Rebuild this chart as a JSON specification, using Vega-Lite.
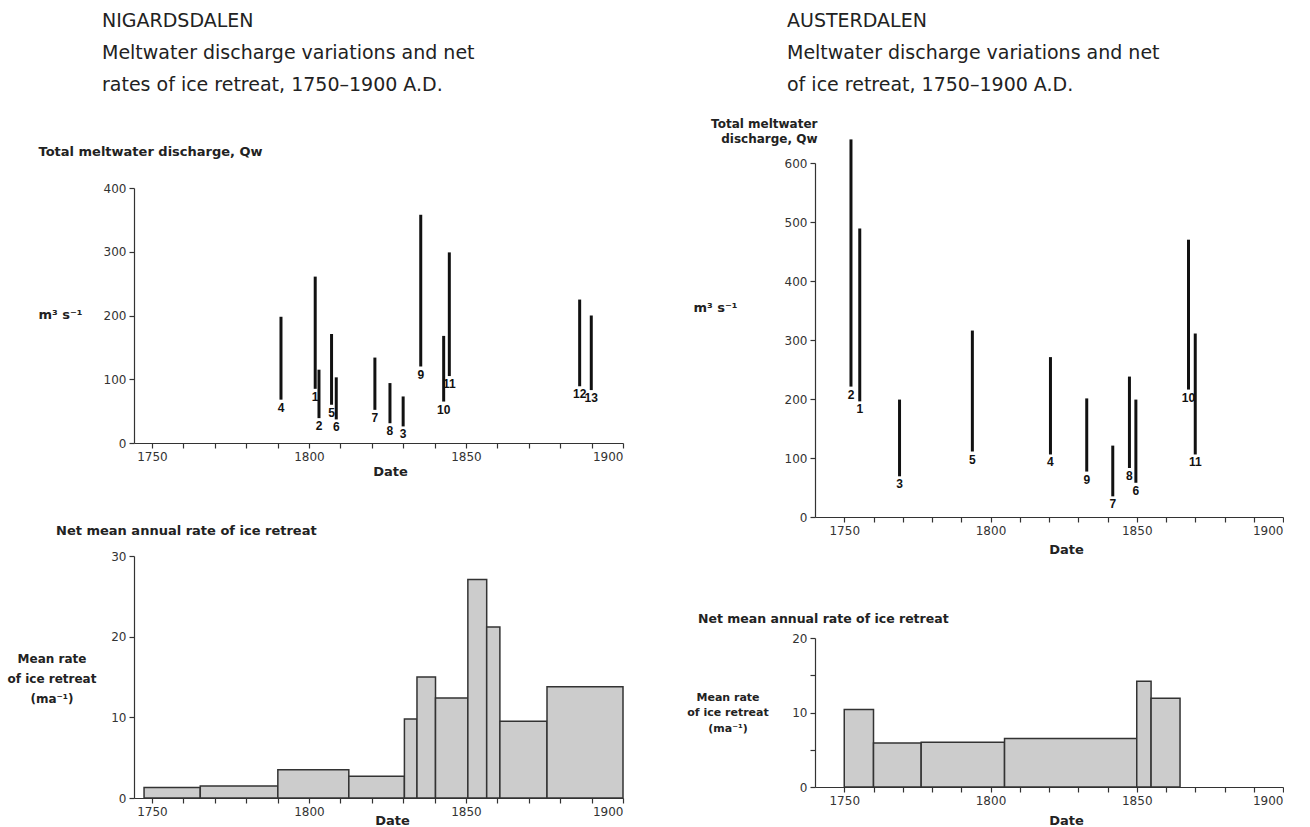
{
  "$schema": "https://vega.github.io/schema/vega-lite/v6.json",
  "background": "white",
  "padding": {"left": 7, "top": 12, "right": 0, "bottom": 0},
  "config": {
    "view": {"stroke": null},
    "axis": {"grid": false, "domainColor": "#333", "tickColor": "#333", "labelColor": "#333", "labelFont": "DejaVu Sans", "labelFontSize": 12, "titleFont": "DejaVu Sans", "titleFontWeight": "bold", "titleColor": "#222", "tickSize": 5, "domainWidth": 1.2, "tickWidth": 1.2, "labelPadding": 3, "labelOverlap": false, "labelBound": false},
    "title": {"font": "DejaVu Sans", "color": "#222"}
  },
  "datasets": {
    "nig_q": [
      {"id": "1", "year": 1802.0, "hi": 261, "lo": 85},
      {"id": "2", "year": 1803.2, "hi": 115, "lo": 39},
      {"id": "3", "year": 1830.0, "hi": 73, "lo": 26},
      {"id": "4", "year": 1791.1, "hi": 198, "lo": 68},
      {"id": "5", "year": 1807.2, "hi": 171, "lo": 60},
      {"id": "6", "year": 1808.7, "hi": 103, "lo": 37},
      {"id": "7", "year": 1821.0, "hi": 134, "lo": 52},
      {"id": "8", "year": 1825.8, "hi": 94, "lo": 31},
      {"id": "9", "year": 1835.6, "hi": 358, "lo": 120},
      {"id": "10", "year": 1842.9, "hi": 168, "lo": 65},
      {"id": "11", "year": 1844.7, "hi": 299, "lo": 105},
      {"id": "12", "year": 1886.2, "hi": 225, "lo": 89},
      {"id": "13", "year": 1889.9, "hi": 200, "lo": 83}
    ],
    "aus_q": [
      {"id": "1", "year": 1755.3, "hi": 489, "lo": 196},
      {"id": "2", "year": 1752.3, "hi": 640, "lo": 221},
      {"id": "3", "year": 1768.9, "hi": 199, "lo": 69},
      {"id": "4", "year": 1820.5, "hi": 271, "lo": 106},
      {"id": "5", "year": 1793.8, "hi": 316, "lo": 111},
      {"id": "6", "year": 1849.7, "hi": 199, "lo": 58},
      {"id": "7", "year": 1841.8, "hi": 121, "lo": 35},
      {"id": "8", "year": 1847.5, "hi": 238, "lo": 83},
      {"id": "9", "year": 1832.9, "hi": 201, "lo": 77},
      {"id": "10", "year": 1867.7, "hi": 470, "lo": 216},
      {"id": "11", "year": 1870.0, "hi": 311, "lo": 106}
    ],
    "nig_r": [
      {"start": 1747.5, "end": 1765.4, "rate": 1.3},
      {"start": 1765.4, "end": 1790.1, "rate": 1.5},
      {"start": 1790.1, "end": 1812.7, "rate": 3.5},
      {"start": 1812.7, "end": 1830.4, "rate": 2.7},
      {"start": 1830.4, "end": 1834.4, "rate": 9.8},
      {"start": 1834.4, "end": 1840.3, "rate": 15.0},
      {"start": 1840.3, "end": 1850.6, "rate": 12.4},
      {"start": 1850.6, "end": 1856.6, "rate": 27.1},
      {"start": 1856.6, "end": 1860.8, "rate": 21.2},
      {"start": 1860.8, "end": 1875.8, "rate": 9.5},
      {"start": 1875.8, "end": 1900.0, "rate": 13.8}
    ],
    "aus_r": [
      {"start": 1750.0, "end": 1760.0, "rate": 10.4},
      {"start": 1760.0, "end": 1776.3, "rate": 5.9},
      {"start": 1776.3, "end": 1804.8, "rate": 6.0},
      {"start": 1804.8, "end": 1850.0, "rate": 6.5},
      {"start": 1850.0, "end": 1854.9, "rate": 14.2},
      {"start": 1854.9, "end": 1864.8, "rate": 11.9}
    ]
  },
  "bounds": "flush",
  "columns": 2,
  "spacing": {"row": 39, "column": 192},
  "concat": [
    {
      "width": 489,
      "height": 280,
      "data": {"name": "nig_q"},
      "title": {"text": ["NIGARDSDALEN", "Meltwater discharge variations and net", "rates of ice retreat, 1750–1900 A.D."], "anchor": "start", "frame": "group", "dx": -32, "offset": 50, "fontSize": 19, "fontWeight": "normal", "lineHeight": 32},
      "encoding": {
        "x": {"field": "year", "type": "quantitative", "scale": {"domain": [1744.3, 1900], "nice": false, "zero": false},
          "axis": {"values": [1750, 1760, 1770, 1780, 1790, 1800, 1810, 1820, 1830, 1840, 1850, 1860, 1870, 1880, 1890, 1900], "format": "d", "labelOverlap": false, "labelExpr": "datum.value % 50 === 0 ? datum.label : ''", "title": "Date", "titleX": 256, "titleY": 32, "titleBaseline": "alphabetic", "titleAlign": "center", "titleFontSize": 13}}
      },
      "layer": [
        {
          "mark": {"type": "rule", "strokeWidth": 3, "color": "#111"},
          "encoding": {
            "y": {"field": "hi", "type": "quantitative", "scale": {"domain": [0, 400], "range": [280, 25], "nice": false},
              "axis": {"values": [0, 100, 200, 300, 400], "title": "Total meltwater discharge, Qw", "titleAngle": 0, "titleAlign": "left", "titleBaseline": "alphabetic", "titleX": -96, "titleY": -8, "titleFontSize": 13}},
            "y2": {"field": "lo"}
          }
        },
        {
          "mark": {"type": "text", "baseline": "top", "dy": 3, "font": "Liberation Sans", "fontWeight": "bold", "fontSize": 12, "color": "#111"},
          "encoding": {
            "y": {"field": "lo", "type": "quantitative", "scale": {"domain": [0, 400], "range": [280, 25], "nice": false},
              "axis": {"orient": "right", "domain": false, "ticks": false, "labels": false, "title": "m³ s⁻¹", "titleAngle": 0, "titleAlign": "left", "titleBaseline": "alphabetic", "titleX": -585, "titleY": 155, "titleFontSize": 13}},
            "text": {"field": "id"}
          }
        }
      ],
      "resolve": {"scale": {"y": "independent"}}
    },
    {
      "width": 468,
      "height": 354,
      "data": {"name": "aus_q"},
      "title": {"text": ["AUSTERDALEN", "Meltwater discharge variations and net", "of ice retreat, 1750–1900 A.D."], "anchor": "start", "frame": "group", "dx": -28, "offset": 22, "fontSize": 19, "fontWeight": "normal", "lineHeight": 32},
      "encoding": {
        "x": {"field": "year", "type": "quantitative", "scale": {"domain": [1740, 1900], "nice": false, "zero": false},
          "axis": {"values": [1750, 1760, 1770, 1780, 1790, 1800, 1810, 1820, 1830, 1840, 1850, 1860, 1870, 1880, 1890, 1900], "format": "d", "labelOverlap": false, "labelExpr": "datum.value % 50 === 0 ? datum.label : ''", "title": "Date", "titleX": 251, "titleY": 36, "titleBaseline": "alphabetic", "titleAlign": "center", "titleFontSize": 13}}
      },
      "layer": [
        {
          "mark": {"type": "rule", "strokeWidth": 3, "color": "#111"},
          "encoding": {
            "y": {"field": "hi", "type": "quantitative", "scale": {"domain": [0, 600], "nice": false},
              "axis": {"values": [0, 100, 200, 300, 400, 500, 600], "title": ["Total meltwater", "discharge, Qw"], "titleAngle": 0, "titleAlign": "right", "titleBaseline": "alphabetic", "titleX": 2, "titleY": -36, "titleLineHeight": 15, "titleFontSize": 12}},
            "y2": {"field": "lo"}
          }
        },
        {
          "mark": {"type": "text", "baseline": "top", "dy": 3, "font": "Liberation Sans", "fontWeight": "bold", "fontSize": 12, "color": "#111"},
          "encoding": {
            "y": {"field": "lo", "type": "quantitative", "scale": {"domain": [0, 600], "nice": false},
              "axis": {"orient": "right", "domain": false, "ticks": false, "labels": false, "title": "m³ s⁻¹", "titleAngle": 0, "titleAlign": "left", "titleBaseline": "alphabetic", "titleX": -590, "titleY": 148, "titleFontSize": 13}},
            "text": {"field": "id"}
          }
        }
      ],
      "resolve": {"scale": {"y": "independent"}}
    },
    {
      "width": 489,
      "height": 242,
      "data": {"name": "nig_r"},
      "title": {"text": "Net mean annual rate of ice retreat", "anchor": "start", "frame": "group", "dx": -78, "offset": 12, "fontSize": 13, "fontWeight": "bold"},
      "mark": {"type": "rect", "fill": "#cccccc", "stroke": "#333", "strokeWidth": 1.5},
      "encoding": {
        "x": {"field": "start", "type": "quantitative", "scale": {"domain": [1744.3, 1900], "nice": false, "zero": false},
          "axis": {"values": [1750, 1760, 1770, 1780, 1790, 1800, 1810, 1820, 1830, 1840, 1850, 1860, 1870, 1880, 1890, 1900], "format": "d", "labelExpr": "datum.value % 50 === 0 ? datum.label : ''", "title": "Date", "titleX": 258, "titleY": 26, "titleBaseline": "alphabetic", "titleAlign": "center", "titleFontSize": 13}},
        "x2": {"field": "end"},
        "y": {"field": "rate", "type": "quantitative", "scale": {"domain": [0, 30], "nice": false},
          "axis": {"values": [0, 10, 20, 30], "title": ["Mean rate", "of ice retreat", "(ma⁻¹)"], "titleAngle": 0, "titleAlign": "center", "titleBaseline": "alphabetic", "titleX": -82.5, "titleY": 106, "titleLineHeight": 20, "titleFontSize": 12}},
        "y2": {"datum": 0}
      }
    },
    {
      "width": 468,
      "height": 231,
      "data": {"name": "aus_r"},
      "title": {"text": "Net mean annual rate of ice retreat", "anchor": "start", "frame": "group", "dx": -117, "offset": -69, "fontSize": 12.5, "fontWeight": "bold"},
      "mark": {"type": "rect", "fill": "#cccccc", "stroke": "#333", "strokeWidth": 1.5},
      "encoding": {
        "x": {"field": "start", "type": "quantitative", "scale": {"domain": [1740, 1900], "nice": false, "zero": false},
          "axis": {"values": [1750, 1760, 1770, 1780, 1790, 1800, 1810, 1820, 1830, 1840, 1850, 1860, 1870, 1880, 1890, 1900], "format": "d", "labelExpr": "datum.value % 50 === 0 ? datum.label : ''", "title": "Date", "titleX": 251, "titleY": 37, "titleBaseline": "alphabetic", "titleAlign": "center", "titleFontSize": 13}},
        "x2": {"field": "end"},
        "y": {"field": "rate", "type": "quantitative", "scale": {"domain": [0, 20], "range": [231, 82], "nice": false},
          "axis": {"values": [0, 5, 10, 15, 20], "labelExpr": "datum.value % 10 === 0 ? datum.label : ''", "title": ["Mean rate", "of ice retreat", "(ma⁻¹)"], "titleAngle": 0, "titleAlign": "center", "titleBaseline": "alphabetic", "titleX": -87.5, "titleY": 144, "titleLineHeight": 15.5, "titleFontSize": 11}},
        "y2": {"datum": 0}
      }
    }
  ]
}
